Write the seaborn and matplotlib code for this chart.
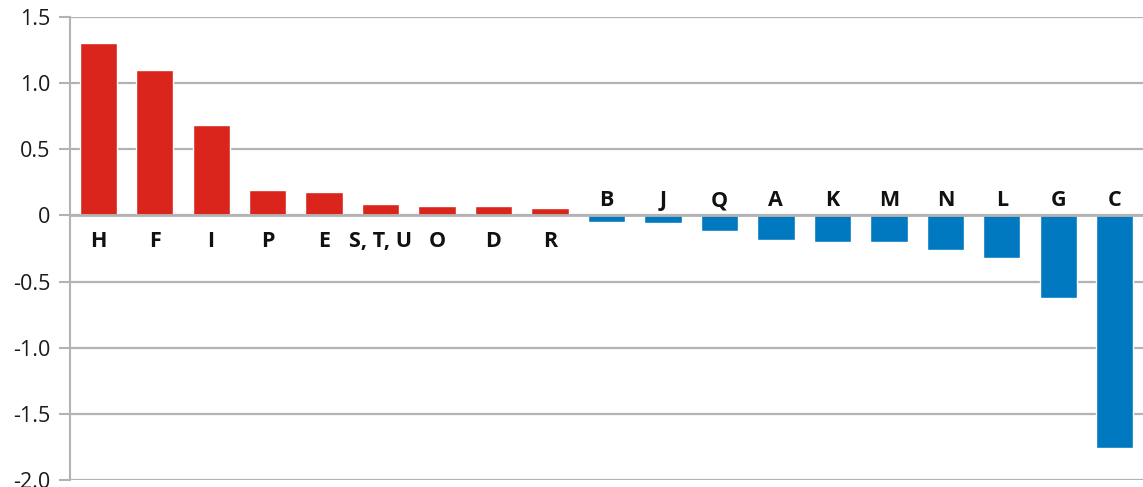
import matplotlib
matplotlib.use("Agg")
import matplotlib.pyplot as plt
import seaborn as sns
import pandas as pd

# values
categories = ["H", "F", "I", "P", "E", "S, T, U", "O", "D", "R",
              "B", "J", "Q", "A", "K", "M", "N", "L", "G", "C"]
values = [1.305, 1.10, 0.685, 0.193, 0.174, 0.088, 0.073, 0.073, 0.058,
          -0.048, -0.060, -0.115, -0.183, -0.198, -0.198, -0.259, -0.319, -0.626, -1.758]
y_ticks = [-2.0, -1.5, -1.0, -0.5, 0, 0.5, 1.0, 1.5]
y_tick_labels = ["-2.0", "-1.5", "-1.0", "-0.5", "0", "0.5", "1.0", "1.5"]

RED = "#DA251D"
BLUE = "#0079C1"
GRID = "#B3B3B3"

sns.set_style("white")
plt.rcParams["font.family"] = ["Open Sans", "DejaVu Sans"]

df = pd.DataFrame({"cat": categories, "val": values})
df["sign"] = ["pos" if v >= 0 else "neg" for v in df["val"]]

fig = plt.figure(figsize=(11.43, 4.87), dpi=100)
ax = fig.add_axes([70 / 1143, 7 / 487, 1 - 70 / 1143, 463 / 487])

sns.barplot(data=df, x="cat", y="val", hue="sign", order=categories,
            palette={"pos": RED, "neg": BLUE}, dodge=False, legend=False,
            width=0.66, saturation=1, ax=ax, zorder=3)

ax.set_ylim(-2.0, 1.5)
ax.set_xlim(-0.5, len(categories) - 0.5)
ax.set_yticks(y_ticks)
ax.set_yticklabels(y_tick_labels, fontsize=15.5, color="#1a1a1a")
ax.set_xticks([])
ax.set_xlabel("")
ax.set_ylabel("")

ax.grid(axis="y", color=GRID, linewidth=1.6, zorder=0)
ax.set_axisbelow(True)
ax.axhline(0, color=GRID, linewidth=2, zorder=4)
for s in ["top", "right", "bottom"]:
    ax.spines[s].set_visible(False)
ax.spines["left"].set_color(GRID)
ax.spines["left"].set_linewidth(1.5)
ax.tick_params(axis="y", which="major", left=True, length=8, width=1.5,
               color=GRID, pad=6)

# category labels next to the zero line, on the opposite side of the bar
for i, (c, v) in enumerate(zip(categories, values)):
    if v >= 0:
        ax.annotate(c, xy=(i, 0), xytext=(0, -18.5), textcoords="offset points",
                    ha="center", va="center", fontsize=15.5, fontweight="bold",
                    color="#111111")
    else:
        ax.annotate(c, xy=(i, 0), xytext=(0, 10.5), textcoords="offset points",
                    ha="center", va="center", fontsize=15.5, fontweight="bold",
                    color="#111111")

fig.savefig("out.png", dpi=100)
